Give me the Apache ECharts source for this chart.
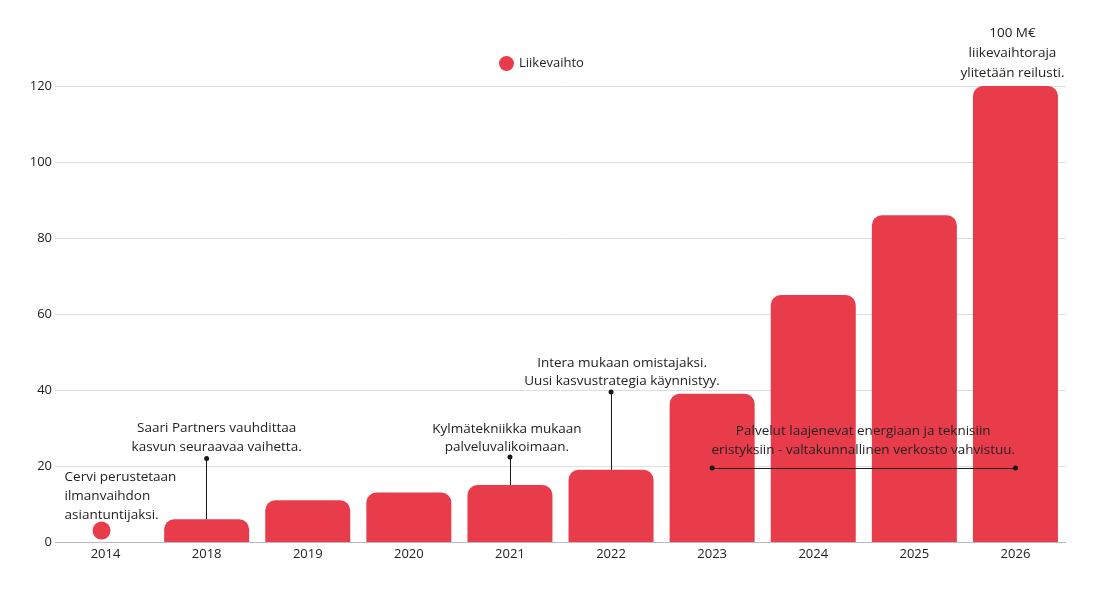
<!DOCTYPE html>
<html>
<head>
<meta charset="utf-8">
<script src="https://cdn.jsdelivr.net/npm/echarts@6/dist/echarts.min.js"></script>
<style>
html,body{margin:0;padding:0;background:#fff;}
#chart{width:1097px;height:601px;}
</style>
</head>
<body>
<div id="chart"></div>
<script>
const categories = ['2014','2018','2019','2020','2021','2022','2023','2024','2025','2026'];
const revenue = [null, 6, 11, 13, 15, 19, 39, 65, 86, 120];
const revenue2014 = 3;
const yTicks = [0, 20, 40, 60, 80, 100, 120];

const notes = [
  { cat: '2014', value: 12, text: 'Cervi perustetaan\nilmanvaihdon\nasiantuntijaksi.' },
  { cat: '2018', value: 22, text: 'Saari Partners vauhdittaa\nkasvun seuraavaa vaihetta.' },
  { cat: '2021', value: 22.4, text: 'Kylmätekniikka mukaan\npalveluvalikoimaan.' },
  { cat: '2022', value: 39.5, text: 'Intera mukaan omistajaksi.\nUusi kasvustrategia käynnistyy.' },
  { cat: '2024', value: 19.5, text: 'Palvelut laajenevat energiaan ja teknisiin\neristyksiin - valtakunnallinen verkosto vahvistuu.' },
  { cat: '2026', value: 120, text: '100 M€\nliikevaihtoraja\nylitetään reilusti.' }
];
const leaders = [
  { from: ['2018', 6], to: ['2018', 22] },
  { from: ['2021', 15], to: ['2021', 22.4] },
  { from: ['2022', 19], to: ['2022', 39.5] }
];
const spanLine = { from: ['2023', 19.5], to: ['2026', 19.5] };

const RED = '#E93C4B';
const FONT = '"Open Sans", Lato, sans-serif';
const TXT = '#222';

const noteStyle = [
  { align: 'left', verticalAlign: 'middle', offset: [-41, 0], lineHeight: 19 },
  { align: 'center', verticalAlign: 'bottom', offset: [10, -2], lineHeight: 19 },
  { align: 'center', verticalAlign: 'bottom', offset: [-3, -1], lineHeight: 18 },
  { align: 'center', verticalAlign: 'bottom', offset: [11, -2], lineHeight: 18 },
  { align: 'center', verticalAlign: 'bottom', offset: [50, -8], lineHeight: 19 },
  { align: 'center', verticalAlign: 'bottom', offset: [-3, -3], lineHeight: 20 }
];

const chart = echarts.init(document.getElementById('chart'));
const option = {
  animation: false,
  textStyle: { fontFamily: FONT },
  legend: {
    left: 494, top: 51,
    itemWidth: 15, itemHeight: 15, itemGap: 5,
    data: [{ name: 'Liikevaihto', icon: 'circle' }],
    textStyle: { fontFamily: FONT, fontSize: 13, color: TXT }
  },
  grid: { left: 55, right: 31, top: 86, bottom: 59 },
  xAxis: {
    type: 'category',
    data: categories,
    axisLine: { show: true, lineStyle: { color: '#bbb', width: 1 } },
    axisTick: { show: false },
    axisLabel: { color: TXT, fontSize: 13, margin: 6, fontFamily: FONT }
  },
  yAxis: {
    type: 'value',
    min: 0, max: 120, interval: 20,
    axisLine: { show: false },
    axisTick: { show: false },
    splitLine: { lineStyle: { color: '#dddddd', width: 1 } },
    axisLabel: {
      color: TXT, fontSize: 13, margin: 3, fontFamily: FONT,
      formatter: v => yTicks.includes(v) ? String(v) : ''
    }
  },
  series: [
    {
      name: 'Liikevaihto',
      type: 'bar',
      data: revenue.map(v => v === null ? '-' : v),
      barWidth: 85,
      itemStyle: { color: RED, borderRadius: [10, 10, 0, 0] },
      markLine: {
        silent: true,
        symbol: ['none', 'circle'],
        symbolSize: 5,
        label: { show: false },
        lineStyle: { color: '#1a1a1a', width: 1, type: 'solid' },
        data: leaders.map(l => [{ coord: l.from }, { coord: l.to }]).concat([
          [{ coord: spanLine.from, symbol: 'circle' }, { coord: spanLine.to, symbol: 'circle' }]
        ])
      },
      markPoint: {
        silent: true,
        symbol: 'circle',
        symbolSize: 1,
        itemStyle: { color: 'rgba(0,0,0,0)' },
        data: notes.map((n, i) => ({
          coord: [n.cat, n.value],
          label: Object.assign({
            show: true,
            position: 'inside',
            formatter: n.text,
            color: TXT,
            fontSize: 13.5,
            fontFamily: FONT
          }, noteStyle[i])
        }))
      }
    },
    {
      name: 'Liikevaihto',
      type: 'scatter',
      data: categories.map(c => c === '2014' ? revenue2014 : '-'),
      symbol: 'circle',
      symbolSize: 18,
      symbolOffset: [-4, 0],
      itemStyle: { color: RED, opacity: 1 }
    }
  ]
};
chart.setOption(option);
</script>
</body>
</html>
